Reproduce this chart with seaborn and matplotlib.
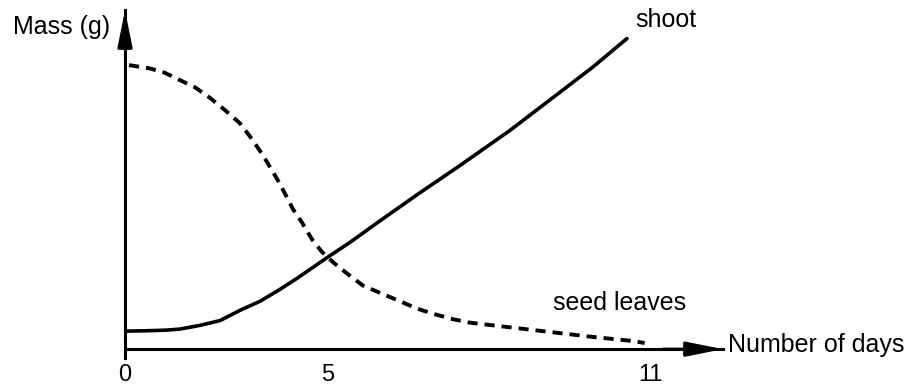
import matplotlib.pyplot as plt
import seaborn as sns
import pandas as pd
import numpy as np

plt.switch_backend('Agg')

sns.set_style('white')
plt.rcParams['font.family'] = ['Liberation Sans', 'DejaVu Sans']
plt.rcParams['text.color'] = 'black'
plt.rcParams['xtick.color'] = 'black'
plt.rcParams['axes.edgecolor'] = 'black'

# mass in arbitrary units (axis has no values)
shoot_days = [0.0, 0.5, 1.03, 1.35, 1.85, 2.34, 2.83, 3.33, 3.82, 4.26,
              5.0, 5.41, 6.02, 6.66, 7.46, 8.39, 9.32, 9.94, 10.57]
shoot_mass = [5.3, 5.4, 5.6, 5.9, 7.0, 8.4, 11.4, 14.1, 17.6, 21.0,
              27.1, 31.4, 38.3, 45.4, 54.0, 64.3, 75.5, 83.0, 91.3]

seed_days = [0.1, 0.62, 0.99, 1.35, 1.72, 2.09, 2.46, 2.83, 3.08, 3.37,
             3.57, 3.82, 4.14, 4.36, 4.61, 4.85, 5.09, 5.35, 5.65, 6.02,
             6.34, 6.66, 6.96, 7.33, 7.64, 9.0, 9.93, 10.68, 10.9]
seed_mass = [83.5, 82.5, 81.2, 79.1, 77.0, 73.9, 70.3, 66.4, 62.5, 57.5,
             53.6, 48.5, 41.1, 37.2, 32.2, 28.6, 25.6, 22.3, 18.7, 16.2,
             14.1, 11.9, 10.4, 8.8, 7.8, 5.3, 3.6, 2.4, 1.8]

tick_days = [0, 5, 11]
tick_labels = ['0', '5', '11']

# the sketch's day axis is not evenly spaced: drawn spacing per tick
scale_days = [-5, 0, 5, 11, 14]
scale_pos = [-203, 0, 203, 525, 686]


def fwd(d):
    return np.interp(d, scale_days, scale_pos)


def inv(p):
    return np.interp(p, scale_pos, scale_days)


shoot_df = pd.DataFrame({'day': shoot_days, 'mass': shoot_mass})
seed_df = pd.DataFrame({'day': seed_days, 'mass': seed_mass})

W, H = 921, 391
fig = plt.figure(figsize=(W / 100, H / 100), dpi=100)
ax = fig.add_axes([125 / W, (H - 358) / H, (723 - 125) / W, (358 - 10) / H])
ax.set_xscale('function', functions=(fwd, inv))

sns.lineplot(data=shoot_df, x='day', y='mass', ax=ax, color='black',
             lw=2.6, sort=False)
sns.lineplot(data=seed_df, x='day', y='mass', ax=ax, color='black',
             lw=2.8, linestyle=(0, (2.6, 1.8)), sort=False)

ax.set_xlim(0, 12.36)
ax.set_ylim(-2.6, 99.7)

for s in ['top', 'right']:
    ax.spines[s].set_visible(False)
ax.spines['bottom'].set_position(('data', 0))
ax.spines['left'].set_linewidth(2.2)
ax.spines['bottom'].set_linewidth(2.2)

ax.set_yticks([])
ax.set_xticks(tick_days)
ax.set_xticklabels(tick_labels, fontsize=17)
ax.tick_params(axis='x', which='major', length=0, pad=11)
ax.set_xticks([11], minor=True)
ax.tick_params(axis='x', which='minor', direction='inout', length=11, width=2)
ax.set_xlabel('')
ax.set_ylabel('')

arrow = dict(arrowstyle='-|>,head_length=1.1,head_width=0.22',
             mutation_scale=20, lw=2.2, color='black', shrinkA=0, shrinkB=0)
ax.annotate('', xy=(1, 2.6 / 102.3), xytext=(0.9, 2.6 / 102.3),
            xycoords='axes fraction', arrowprops=arrow, annotation_clip=False)
ax.annotate('', xy=(0, 1), xytext=(0, 0.9),
            xycoords='axes fraction', arrowprops=arrow, annotation_clip=False)

ax.text(-0.37, 94.7, 'Mass (g)', fontsize=18, ha='right', va='center',
        clip_on=False)
ax.text(10.72, 96.8, 'shoot', fontsize=18, ha='left', va='center',
        clip_on=False)
ax.text(9.19, 13.5, 'seed leaves', fontsize=18, ha='left', va='center')
ax.text(12.45, 1.2, 'Number of days', fontsize=18, ha='left', va='center',
        clip_on=False)

fig.savefig('out.png', dpi=100)
